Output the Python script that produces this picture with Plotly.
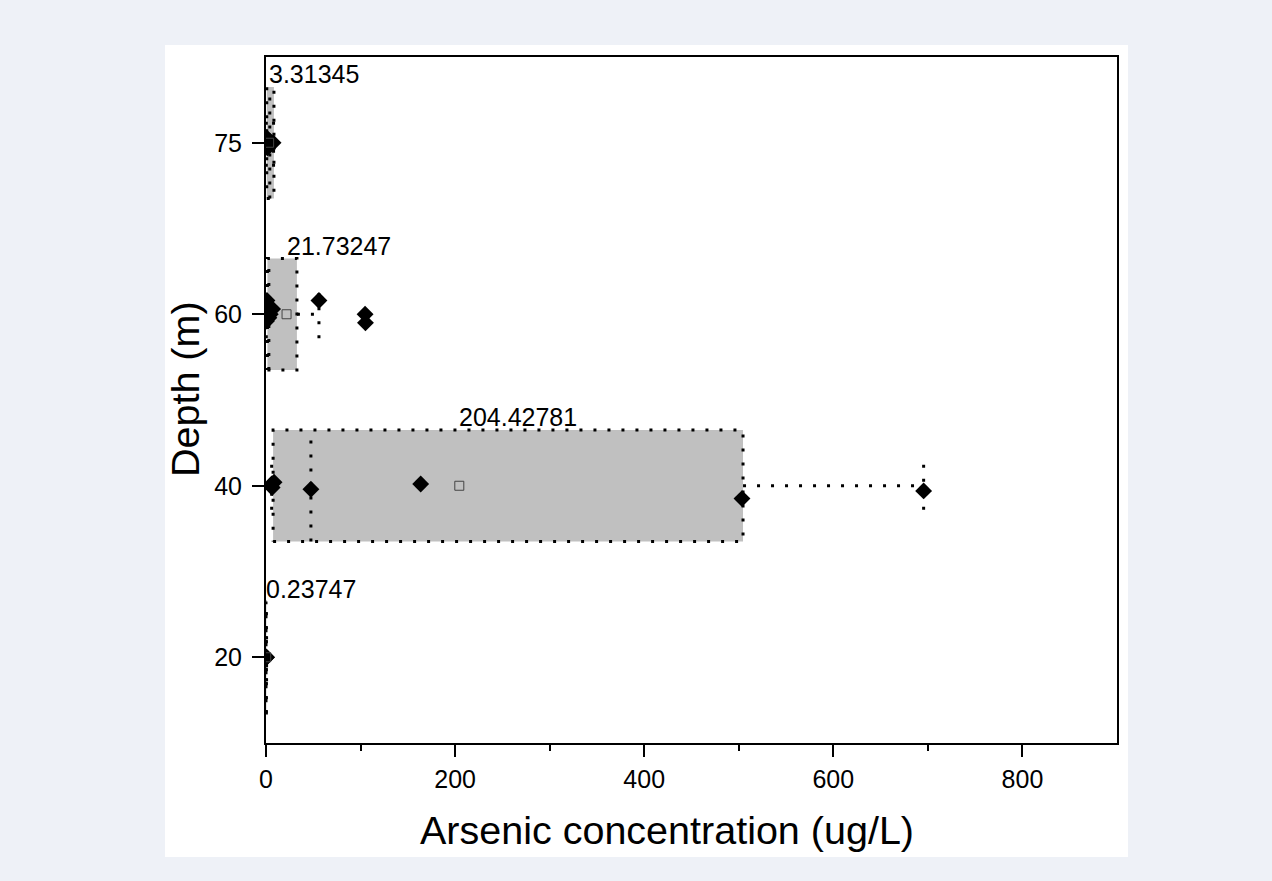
import plotly.graph_objects as go

# ---------------- data ----------------
depths = ["20", "40", "60", "75"]
means = [0.23747, 204.42781, 21.73247, 3.31345]
q1 = [0.0, 7.5, 1.5, 0.8]
medians = [0.1, 47.5, 3.0, 4.0]
q3 = [0.4, 504.5, 32.7, 8.4]
whisker_lo = [0.0, 6.0, 0.3, 0.3]
whisker_hi = [0.6, 695.5, 56.0, 8.0]

pts_20 = [0.05, 0.1, 0.2, 0.6]
pts_40 = [6.0, 6.5, 8.5, 47.5, 163.6, 503.4, 695.5]
pts_60 = [0.5, 1.0, 2.0, 3.0, 4.5, 7.0, 56.0, 104.8, 105.2]
pts_75 = [0.5, 1.5, 3.8, 7.45]
points = [pts_20, pts_40, pts_60, pts_75]

# small vertical spread of the overlaid data points (category units)
jit_20 = [0.0, 0.0, 0.0, 0.0]
jit_40 = [0.01, -0.01, 0.02, -0.02, 0.01, -0.075, -0.03]
jit_60 = [-0.04, 0.08, 0.05, -0.02, 0.0, 0.03, 0.08, 0.0, -0.05]
jit_75 = [0.03, -0.03, 0.01, 0.0]
jitters = [jit_20, jit_40, jit_60, jit_75]

x_ticks = [0, 200, 400, 600, 800]
x_title = "Arsenic concentration (ug/L)"
y_title = "Depth (m)"

# ---------------- styling ----------------
BOX_HALF = 0.325
CAP_HALF = 0.14
FILL = "#c0c0c0"
DOT = dict(color="black", width=3, dash="3px,11px")
FONT = "Liberation Sans, Arial, sans-serif"

fig = go.Figure()

for i, d in enumerate(depths):
    yc = i
    # box
    fig.add_trace(go.Scatter(
        x=[q1[i], q3[i], q3[i], q1[i], q1[i]],
        y=[yc - BOX_HALF, yc - BOX_HALF, yc + BOX_HALF, yc + BOX_HALF, yc - BOX_HALF],
        mode="lines", fill="toself", fillcolor=FILL, line=DOT,
        hoverinfo="skip", showlegend=False))
    # median
    fig.add_trace(go.Scatter(
        x=[medians[i], medians[i]], y=[yc - BOX_HALF, yc + BOX_HALF],
        mode="lines", line=DOT, hoverinfo="skip", showlegend=False))
    # whiskers
    fig.add_trace(go.Scatter(
        x=[q3[i], whisker_hi[i], None, whisker_hi[i], whisker_hi[i],
           None, q1[i], whisker_lo[i], None, whisker_lo[i], whisker_lo[i]],
        y=[yc, yc, None, yc - CAP_HALF, yc + CAP_HALF,
           None, yc, yc, None, yc - CAP_HALF, yc + CAP_HALF],
        mode="lines", line=DOT, hoverinfo="skip", showlegend=False))

# data points
for i, d in enumerate(depths):
    fig.add_trace(go.Scatter(
        x=points[i], y=[i + j for j in jitters[i]],
        mode="markers",
        marker=dict(symbol="diamond", size=13, color="black"),
        showlegend=False, name=d + " m"))

# mean markers
fig.add_trace(go.Scatter(
    x=means, y=list(range(len(depths))), mode="markers",
    marker=dict(symbol="square-open", size=9, color="#444444", line=dict(width=1)),
    showlegend=False, name="mean"))

# mean labels
for i, m in enumerate(means):
    fig.add_annotation(x=m, y=i + BOX_HALF, text=f"{m:.5f}", showarrow=False,
                       xanchor="left", yanchor="bottom", xshift=-2, yshift=-3,
                       font=dict(family=FONT, size=25, color="black"))

# axis titles (positioned like the reference)
fig.add_annotation(x=0.4712, y=-0.1268, xref="paper", yref="paper", text=x_title,
                   showarrow=False, xanchor="center", yanchor="middle",
                   font=dict(family=FONT, size=39.5, color="black"))
fig.add_annotation(x=-0.0952, y=0.516, xref="paper", yref="paper", text=y_title,
                   showarrow=False, xanchor="center", yanchor="middle", textangle=-90,
                   font=dict(family=FONT, size=39.5, color="black"))

# white figure panel on the page background
fig.add_shape(type="rect", xref="paper", yref="paper",
              x0=-0.1187, x1=1.0129, y0=-0.166, y1=1.0175,
              fillcolor="white", line=dict(width=0), layer="below")

fig.update_layout(
    width=1272, height=881,
    margin=dict(l=266, r=155, t=57, b=138),
    paper_bgcolor="#eef1f7", plot_bgcolor="white",
    font=dict(family=FONT, color="black"),
    showlegend=False,
)
fig.update_xaxes(
    range=[0, 900], tickvals=x_ticks, ticks="outside", ticklen=12, tickwidth=2,
    tickcolor="black", showline=True, linewidth=2, linecolor="black", mirror=True,
    showgrid=False, zeroline=False, tickfont=dict(size=25), ticklabelstandoff=1,
    minor=dict(tickvals=[100, 300, 500, 700], ticks="outside", ticklen=6,
               tickwidth=2, tickcolor="black", showgrid=False),
)
fig.update_yaxes(
    range=[-0.5, 3.5], tickvals=list(range(len(depths))), ticktext=depths,
    ticks="outside", ticklen=12, tickwidth=2, tickcolor="black",
    showline=True, linewidth=2, linecolor="black", mirror=True,
    showgrid=False, zeroline=False, tickfont=dict(size=25), ticklabelstandoff=5,
)

fig.write_html(
    "out.html",
    config={"displayModeBar": False},
    post_script="document.body.style.margin='0px';"
                "document.body.style.background='#eef1f7';"
                "document.documentElement.style.overflow='hidden';",
)
